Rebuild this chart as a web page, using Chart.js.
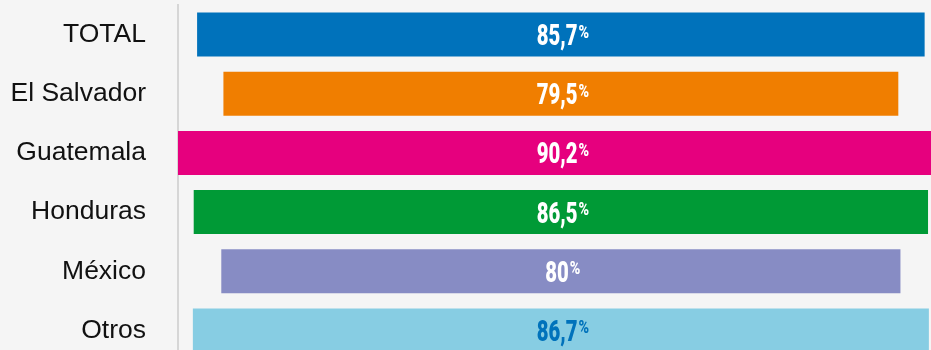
<!DOCTYPE html>
<html>
<head>
<meta charset="utf-8">
<script src="https://cdn.jsdelivr.net/npm/chart.js@4.4.1/dist/chart.umd.min.js"></script>
<style>
  html, body { margin: 0; padding: 0; background: #f5f5f5; overflow: hidden; }
  body { width: 931px; height: 350px; }
  canvas { display: block; }
</style>
</head>
<body>
<canvas id="c" width="931" height="360"></canvas>
<script>
// Share of respondents by country of origin (%)
const categories = ['TOTAL', 'El Salvador', 'Guatemala', 'Honduras', 'México', 'Otros'];
const values = [85.7, 79.5, 90.2, 86.5, 80, 86.7];
const barColors = ['#0072bb', '#f07e00', '#e6007e', '#009a36', '#878cc4', '#87cde3'];
const labelColors = ['#ffffff', '#ffffff', '#ffffff', '#ffffff', '#ffffff', '#0072bb'];

// Bars are centred on zero: each spans [-v/2, v/2]
const centred = values.map(v => [-v / 2, v / 2]);
const X_MIN = -45.1;
const X_MAX = 43.6;

// Condensed value label with a small raised percent sign
const valueLabels = {
  id: 'valueLabels',
  afterDatasetsDraw(chart) {
    const ctx = chart.ctx;
    const meta = chart.getDatasetMeta(0);
    const numFont = '900 29px Roboto';
    const pctFont = '900 19px Roboto';
    const sxNum = 0.7;
    const sxPct = 0.75;
    meta.data.forEach((bar, i) => {
      const num = String(values[i]).replace('.', ',');
      const cx = (bar.x + bar.base) / 2 + 2;
      const cy = bar.y;
      ctx.save();
      ctx.fillStyle = labelColors[i];
      ctx.textBaseline = 'alphabetic';
      ctx.textAlign = 'left';
      ctx.font = numFont;
      const w1 = ctx.measureText(num).width * sxNum;
      ctx.font = pctFont;
      const w2 = ctx.measureText('%').width * sxPct;
      const left = cx - (w1 + w2 + 1) / 2;
      ctx.save();
      ctx.translate(left, cy + 10.5);
      ctx.scale(sxNum, 1);
      ctx.font = numFont;
      ctx.fillText(num, 0, 0);
      ctx.restore();
      ctx.translate(left + w1 + 1, cy + 3);
      ctx.scale(sxPct, 1);
      ctx.font = pctFont;
      ctx.fillText('%', 0, 0);
      ctx.restore();
    });
  }
};

new Chart(document.getElementById('c'), {
  type: 'bar',
  data: {
    labels: categories,
    datasets: [{
      data: centred,
      backgroundColor: barColors,
      borderWidth: 0,
      categoryPercentage: 1,
      barPercentage: 0.745
    }]
  },
  options: {
    indexAxis: 'y',
    responsive: false,
    animation: false,
    devicePixelRatio: 1,
    layout: { padding: { top: 5, right: 0, bottom: 0, left: 0 } },
    plugins: { legend: { display: false }, tooltip: { enabled: false } },
    scales: {
      x: { display: false, min: X_MIN, max: X_MAX },
      y: {
        grid: { display: false, drawTicks: false },
        border: { display: true, color: '#d6d6d6', width: 2 },
        ticks: {
          color: '#111111',
          font: { family: 'Liberation Sans, Arial, sans-serif', size: 26.5 },
          padding: 32
        },
        afterFit(scale) {
          scale.width = 178;
          scale.paddingTop = 0;
          scale.paddingBottom = 0;
        }
      }
    }
  },
  plugins: [valueLabels]
});
</script>
</body>
</html>
